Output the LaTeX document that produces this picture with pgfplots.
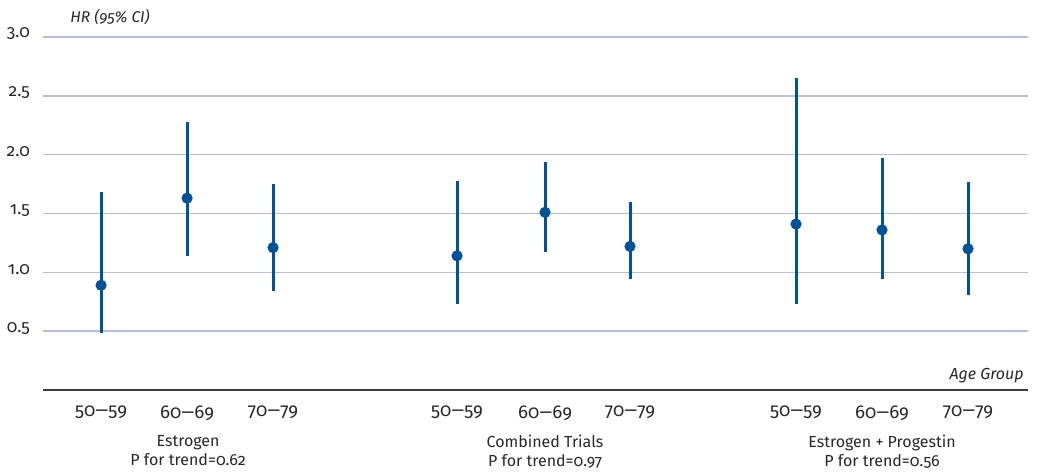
\documentclass[border=0pt]{standalone}
\usepackage{fontspec}
\setmainfont{Fira Sans}[Numbers=OldStyle]
\usepackage{graphicx}
\usepackage{pgfplots}
\pgfplotsset{compat=1.18}
\usepackage{pgfplotstable}
\definecolor{navy}{RGB}{0,82,155}
\definecolor{gridc}{RGB}{184,188,224}
\definecolor{txt}{RGB}{40,40,40}
\newcommand{\dd}{\scalebox{1.35}[1]{–}}
\pgfplotstableread{
x y ep em
101 0.89 0.79 0.41
187 1.63 0.65 0.49
273 1.21 0.54 0.37
457 1.14 0.64 0.41
545 1.51 0.43 0.34
630 1.22 0.38 0.28
796 1.41 1.24 0.68
882 1.36 0.61 0.42
968 1.20 0.57 0.39
}\hrdata
\begin{document}
\begin{tikzpicture}
\path (-21.5pt,-39.5pt) rectangle (497pt,195pt);
\begin{axis}[
  at={(0,0)}, anchor=south west,
  scale only axis, width=492.5pt, height=176.5pt,
  xmin=43, xmax=1028, ymin=0, ymax=3,
  axis x line=bottom, axis y line*=left,
  x axis line style={-, draw=txt!90, line width=0.8pt},
  y axis line style={draw=none},
  ytick={0.5,1,...,3}, ymajorgrids,
  grid style={gridc, line width=0.7pt},
  major tick length=0pt,
  xtick={101,187,273,457,545,630,796,882,968},
  xticklabels={50\dd59,60\dd69,70\dd79,50\dd59,60\dd69,70\dd79,50\dd59,60\dd69,70\dd79},
  xticklabel style={font=\fontsize{9.3}{10}\selectfont, text=txt, yshift=-4.5pt},
  yticklabel style={font=\fontsize{8.7}{10}\selectfont, text=txt, xshift=-3pt, yshift=1.5pt},
  /pgf/number format/assume math mode=true,
  yticklabel={\pgfmathprintnumber[fixed,fixed zerofill,precision=1]{\tick}},
  clip=false,
]
\addplot[navy, line width=1.5pt, mark=*, mark size=2pt, only marks,
  error bars/.cd, y dir=both, y explicit, error mark=none,
  error bar style={navy, line width=1.5pt}]
  table[x=x, y=y, y error plus=ep, y error minus=em]{\hrdata};
\node[anchor=north, align=center, font=\fontsize{8}{9.5}\selectfont, text=txt] at (axis cs:188,0) [yshift=-19pt] {Estrogen\\P for trend=0.62};
\node[anchor=north, align=center, font=\fontsize{8}{9.5}\selectfont, text=txt] at (axis cs:545,0) [yshift=-19pt] {Combined Trials\\P for trend=0.97};
\node[anchor=north, align=center, font=\fontsize{8}{9.5}\selectfont, text=txt] at (axis cs:882,0) [yshift=-19pt] {Estrogen + Progestin\\P for trend=0.56};
\node[anchor=south east, font=\itshape\fontsize{8}{9.5}\selectfont, text=txt, inner sep=1pt] at (axis cs:1026,0) [yshift=2.5pt] {Age Group};
\node[anchor=south west, font=\itshape\fontsize{7.8}{9.5}\selectfont, text=txt, inner sep=1pt] at (axis cs:68,3) [yshift=5pt] {HR (95\% CI)};
\end{axis}
\end{tikzpicture}
\end{document}
